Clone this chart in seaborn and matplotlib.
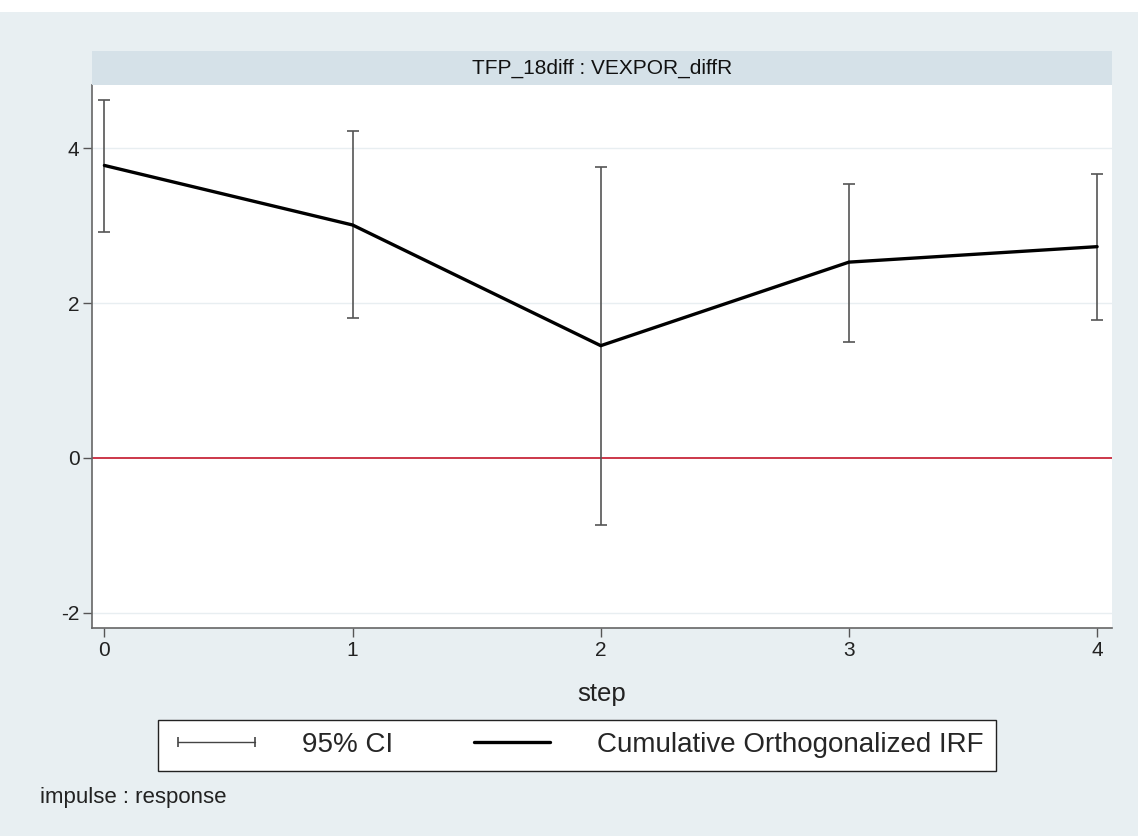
import matplotlib
matplotlib.use("Agg")
import matplotlib.pyplot as plt
from matplotlib.lines import Line2D
import seaborn as sns
import pandas as pd

# Cumulative orthogonalized IRF with 95% confidence bounds
steps = [0, 1, 2, 3, 4]
irf = [3.78, 3.01, 1.45, 2.53, 2.73]
ci_lower = [2.92, 1.81, -0.87, 1.50, 1.78]
ci_upper = [4.62, 4.22, 3.76, 3.54, 3.67]
y_ticks = [-2, 0, 2, 4]
panel_title = "TFP_18diff : VEXPOR_diffR"

sns.set_theme(style="white")
plt.rcParams["font.family"] = ["Liberation Sans", "DejaVu Sans"]
plt.rcParams["axes.unicode_minus"] = False

bg = "#e8eff2"
strip = "#d5e1e8"

df = pd.DataFrame({"step": steps, "irf": irf, "lo": ci_lower, "hi": ci_upper})

fig = plt.figure(figsize=(11.38, 8.36), dpi=100)
fig.patch.set_facecolor(bg)
# thin white band along the top edge
fig.add_artist(plt.Rectangle((0, 1 - 12 / 836), 1, 12 / 836, transform=fig.transFigure,
                             facecolor="white", edgecolor="none"))

L, R, T, B = 92, 1112, 85, 628
ax = fig.add_axes([L / 1138, 1 - B / 836, (R - L) / 1138, (B - T) / 836])
ax.set_facecolor("white")

# confidence interval bars
ax.errorbar(df["step"], (df["lo"] + df["hi"]) / 2, yerr=(df["hi"] - df["lo"]) / 2,
            fmt="none", ecolor="#555555", elinewidth=1.2, capsize=4.5, capthick=1.2, zorder=3)
# response line
sns.lineplot(data=df, x="step", y="irf", ax=ax, color="black", linewidth=2.4,
             legend=False, zorder=4)

ax.axhline(0, color="#c8283c", linewidth=1.3, zorder=2)
for yv in y_ticks:
    if yv != 0:
        ax.axhline(yv, color="#e8eef1", linewidth=1.0, zorder=1)

ax.set_xlim(-0.05, 4.06)
ax.set_ylim(-2.2, 4.82)
ax.set_xticks(steps)
ax.set_yticks(y_ticks)
ax.tick_params(axis="both", which="both", direction="out", length=6.5, width=1,
               color="#555555", labelsize=15, labelcolor="#222222", pad=2.5,
               left=True, bottom=True)
for s in ["top", "right"]:
    ax.spines[s].set_visible(False)
for s in ["left", "bottom"]:
    ax.spines[s].set_color("#666666")
    ax.spines[s].set_linewidth(1.2)
ax.set_xlabel("step", fontsize=18.5, color="#222222", labelpad=16)
ax.set_ylabel("")

# panel title strip
sax = fig.add_axes([L / 1138, 1 - T / 836, (R - L) / 1138, 34 / 836])
sax.set_facecolor(strip)
sax.set_xticks([])
sax.set_yticks([])
for s in sax.spines.values():
    s.set_visible(False)
sax.text(0.5, 0.5, panel_title, ha="center", va="center", fontsize=15, color="#111111",
         transform=sax.transAxes)

handles = [
    Line2D([], [], color="#444444", linewidth=1.0, marker="|", markersize=7,
           markeredgewidth=1.2),
    Line2D([], [], color="black", linewidth=2.4),
]
labels = ["95% CI", "Cumulative Orthogonalized IRF"]
leg = fig.legend(handles, labels, loc="center", bbox_to_anchor=(577 / 1138, 1 - 745 / 836),
                 ncol=2, numpoints=2, fontsize=20, handlelength=3.35, handletextpad=1.4,
                 columnspacing=2.6, frameon=True, fancybox=False, borderpad=0.45,
                 borderaxespad=0)
leg.get_frame().set_edgecolor("#222222")
leg.get_frame().set_linewidth(1.0)
leg.get_frame().set_facecolor("white")
leg.get_frame().set_alpha(1)

fig.text(40 / 1138, 1 - 798 / 836, "impulse : response", fontsize=16, color="#222222",
         va="center", ha="left")

fig.savefig("out.png", dpi=100, facecolor=fig.get_facecolor())
